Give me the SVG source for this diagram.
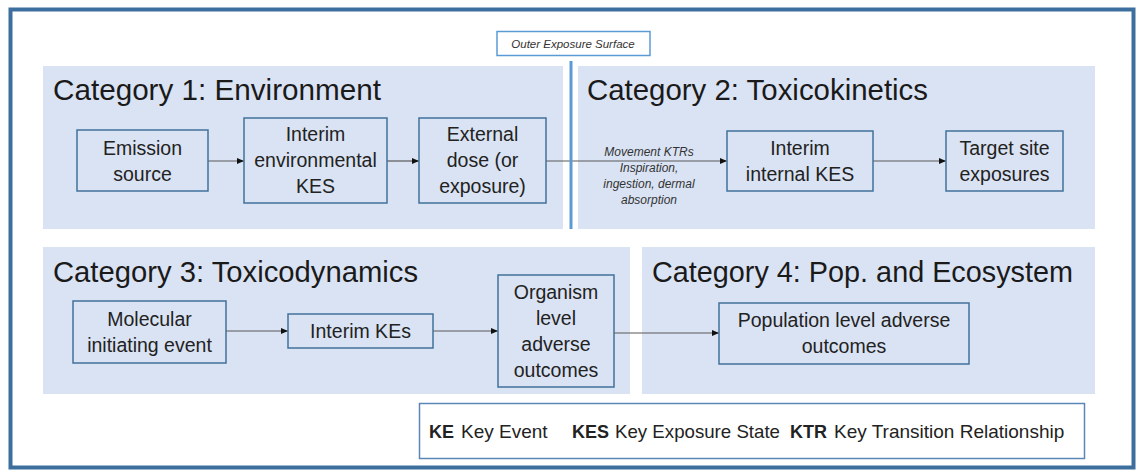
<svg xmlns="http://www.w3.org/2000/svg" width="1137" height="472" viewBox="0 0 1137 472">
<style>
.panel{fill:#dae3f3;stroke:none}
.node{fill:#dae3f3;stroke:#41719c;stroke-width:1.5}
.t{font-family:"Liberation Sans",Arial,sans-serif;font-size:19.5px;fill:#222;text-anchor:middle}
.title{font-family:"Liberation Sans",Arial,sans-serif;font-size:29px;fill:#1a1a1a}
.it{font-family:"Liberation Sans",Arial,sans-serif;font-style:italic;fill:#333;text-anchor:middle}
.lg{font-family:"Liberation Sans",Arial,sans-serif;font-size:19px;fill:#222}
.lgb{font-weight:bold;font-size:18px}
.conn{stroke:#595959;stroke-width:1.2;fill:none;marker-end:url(#ah)}
</style>
<defs>
<marker id="ah" markerWidth="7" markerHeight="6" refX="7" refY="3" orient="auto" markerUnits="userSpaceOnUse">
<path d="M0,0 L7,3 L0,6 Z" fill="#111"/>
</marker>
</defs>
<rect width="1137" height="472" fill="#fff"/>
<rect x="10.5" y="9.5" width="1123" height="458" fill="none" stroke="#3d6f9e" stroke-width="4"/>

<g id="panels">
<rect class="panel" x="43" y="66" width="520" height="163"/>
<rect class="panel" x="578" y="66" width="517" height="163"/>
<rect class="panel" x="43" y="247" width="587" height="147"/>
<rect class="panel" x="642" y="247" width="453" height="147"/>
<text class="title" x="53" y="100" textLength="328" lengthAdjust="spacingAndGlyphs">Category 1: Environment</text>
<text class="title" x="587" y="100" textLength="341" lengthAdjust="spacingAndGlyphs">Category 2: Toxicokinetics</text>
<text class="title" x="53" y="282" textLength="365" lengthAdjust="spacingAndGlyphs">Category 3: Toxicodynamics</text>
<text class="title" x="652" y="282" textLength="421" lengthAdjust="spacingAndGlyphs">Category 4: Pop. and Ecosystem</text>
</g>

<g id="connectors">
<line class="conn" x1="208" y1="161" x2="244" y2="161"/>
<line class="conn" x1="387" y1="161" x2="419" y2="161"/>
<line class="conn" x1="546" y1="161" x2="727" y2="161"/>
<line class="conn" x1="873" y1="161" x2="946" y2="161"/>
<line class="conn" x1="226" y1="331" x2="288" y2="331"/>
<line class="conn" x1="433" y1="331" x2="498" y2="331"/>
<line class="conn" x1="614" y1="333" x2="719" y2="333"/>
<g class="it" font-size="12">
<text x="649" y="156">Movement KTRs</text>
<text x="649" y="172">Inspiration,</text>
<text x="649" y="188">ingestion, dermal</text>
<text x="649" y="204">absorption</text>
</g>
</g>

<g id="outer-exposure-surface">
<rect x="497" y="31.5" width="153" height="24" fill="#fff" stroke="#5b9bd5" stroke-width="1.5"/>
<text class="it" x="573" y="48" font-size="11.5">Outer Exposure Surface</text>
<line x1="571" y1="61" x2="571" y2="229" stroke="#5b9bd5" stroke-width="3"/>
</g>

<g id="emission-source">
<rect class="node" x="77" y="130" width="131" height="61"/>
<text class="t" x="142.5" y="155">Emission</text>
<text class="t" x="142.5" y="181">source</text>
</g>
<g id="interim-environmental-kes">
<rect class="node" x="244" y="118" width="143" height="85"/>
<text class="t" x="315.5" y="141">Interim</text>
<text class="t" x="315.5" y="167">environmental</text>
<text class="t" x="315.5" y="193">KES</text>
</g>
<g id="external-dose">
<rect class="node" x="419" y="118" width="127" height="85"/>
<text class="t" x="482.5" y="141">External</text>
<text class="t" x="482.5" y="167">dose (or</text>
<text class="t" x="482.5" y="193">exposure)</text>
</g>
<g id="interim-internal-kes">
<rect class="node" x="727" y="131" width="146" height="60"/>
<text class="t" x="800" y="155">Interim</text>
<text class="t" x="800" y="181">internal KES</text>
</g>
<g id="target-site-exposures">
<rect class="node" x="946" y="131" width="117" height="60"/>
<text class="t" x="1004.5" y="155">Target site</text>
<text class="t" x="1004.5" y="181">exposures</text>
</g>
<g id="molecular-initiating-event">
<rect class="node" x="73" y="301" width="153" height="62"/>
<text class="t" x="149.5" y="326">Molecular</text>
<text class="t" x="149.5" y="352">initiating event</text>
</g>
<g id="interim-kes">
<rect class="node" x="288" y="314" width="145" height="34"/>
<text class="t" x="360.5" y="338">Interim KEs</text>
</g>
<g id="organism-level-adverse-outcomes">
<rect class="node" x="498" y="275" width="116" height="112"/>
<text class="t" x="556" y="299">Organism</text>
<text class="t" x="556" y="325">level</text>
<text class="t" x="556" y="351">adverse</text>
<text class="t" x="556" y="377">outcomes</text>
</g>
<g id="population-level-adverse-outcomes">
<rect class="node" x="719" y="303" width="250" height="61"/>
<text class="t" x="844" y="327">Population level adverse</text>
<text class="t" x="844" y="353">outcomes</text>
</g>

<g id="legend">
<rect x="419.5" y="403.5" width="665" height="55" fill="#fff" stroke="#5b87b8" stroke-width="1.5"/>
<text class="lg" y="438"><tspan class="lgb" x="429">KE</tspan><tspan x="461">Key Event</tspan><tspan class="lgb" x="572">KES</tspan><tspan x="615" textLength="165" lengthAdjust="spacingAndGlyphs">Key Exposure State</tspan><tspan class="lgb" x="790">KTR</tspan><tspan x="834">Key Transition Relationship</tspan></text>
</g>
</svg>
